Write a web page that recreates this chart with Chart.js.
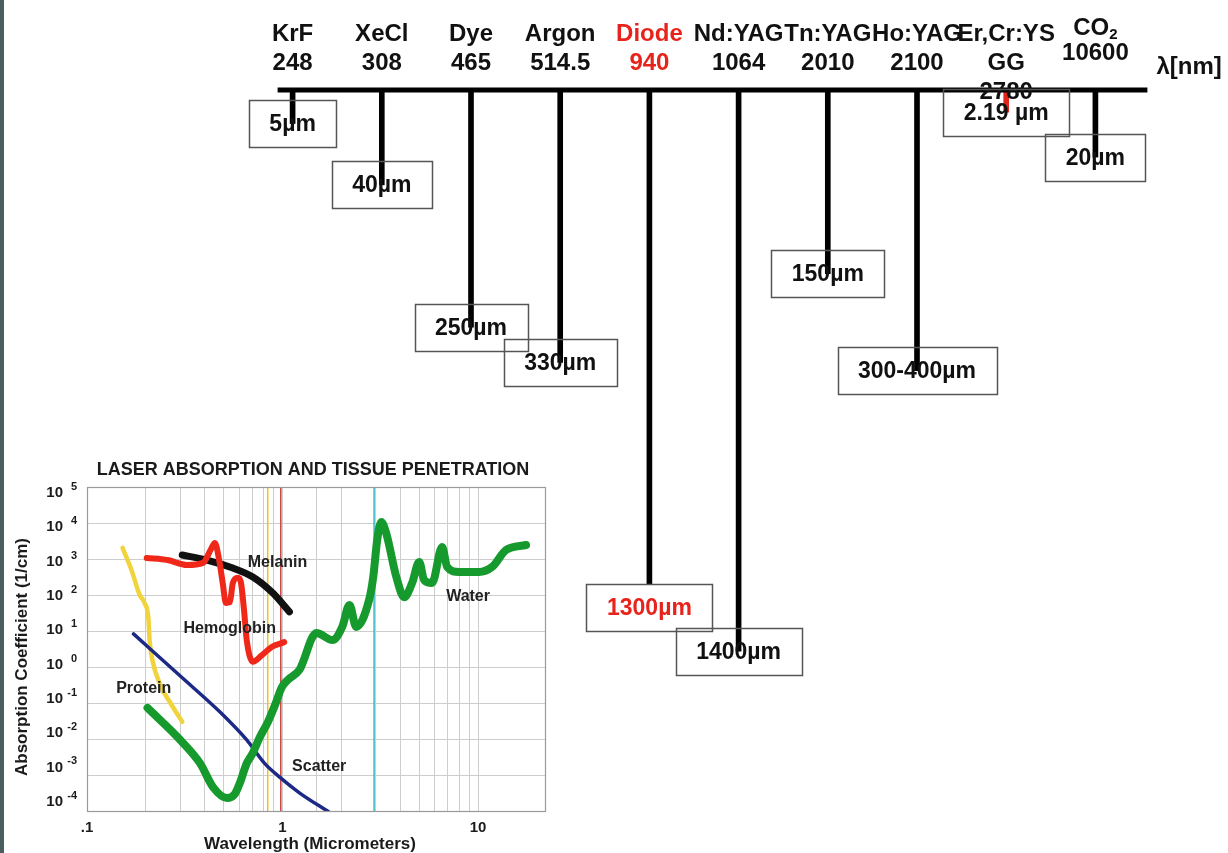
<!DOCTYPE html>
<html>
<head>
<meta charset="utf-8">
<script src="https://cdn.jsdelivr.net/npm/chart.js@4.4.1/dist/chart.umd.min.js"></script>
<style>
  html, body { margin: 0; padding: 0; background: #fff; }
  body { width: 1228px; height: 853px; position: relative; overflow: hidden; }
  #scaleChart { position: absolute; left: 0; top: 0; }
  #insetChart { position: absolute; left: 0; top: 450px; }
  #edge { position: absolute; left: 0; top: 0; width: 4px; height: 853px; background: #4a5e5f; }
</style>
</head>
<body>
<canvas id="scaleChart" width="1228" height="853"></canvas>
<canvas id="insetChart" width="570" height="403"></canvas>
<div id="edge"></div>
<script>
// ---------- laser lines and penetration depths ----------
const lasers        = ['KrF', 'XeCl', 'Dye', 'Argon', 'Diode', 'Nd:YAG', 'Tn:YAG', 'Ho:YAG', 'Er,Cr:YSGG', 'CO₂'];
const wavelengthsNm = ['248', '308', '465', '514.5', '940', '1064', '2010', '2100', '2780', '10600'];
const depthUm       = [5, 40, 250, 330, 1300, 1400, 150, 350, 2.19, 20];
const depthLabels   = ['5µm', '40µm', '250µm', '330µm', '1300µm', '1400µm', '150µm', '300-400µm', '2.19 µm', '20µm'];
const highlighted   = 'Diode';

// ---------- absorption spectra (wavelength µm, absorption 1/cm) ----------
const proteinWl  = [0.152, 0.169, 0.186, 0.197, 0.206, 0.209, 0.216, 0.238, 0.267, 0.307];
const proteinAbs = [2040, 490, 100, 60, 23, 5.6, 1.56, 0.30, 0.10, 0.030];

const melaninWl  = [0.307, 0.411, 0.557, 0.705, 0.89, 1.085];
const melaninAbs = [1290, 935, 560, 316, 115, 34];

const hemoWl  = [0.202, 0.258, 0.325, 0.392, 0.431, 0.451, 0.474, 0.496, 0.513, 0.538, 0.557, 0.591, 0.612, 0.634, 0.656, 0.705, 0.782, 0.88, 1.02];
const hemoAbs = [1070, 935, 680, 780, 1900, 2800, 935, 190, 60, 63, 215, 300, 230, 44, 5.6, 1.4, 2.1, 3.6, 4.9];

const scatterWl  = [0.173, 0.300, 0.479, 0.656, 0.81, 0.977, 1.22, 1.73];
const scatterAbs = [8.3, 0.56, 0.056, 0.0094, 0.0021, 0.00083, 0.00032, 0.000093];

const waterWl  = [0.204, 0.300, 0.379, 0.441, 0.52, 0.571, 0.605, 0.656, 0.705, 0.764, 0.84, 0.92, 0.99, 1.06, 1.22, 1.49, 1.80, 2.02, 2.2, 2.38, 2.77, 2.91, 3.05, 3.2, 3.39, 3.82, 4.19, 4.6, 5.0, 5.3, 5.82, 6.55, 6.95, 8.0, 10.1, 11.8, 13.9, 17.6];
const waterAbs = [0.073, 0.0094, 0.0021, 0.00046, 0.00023, 0.0003, 0.0006, 0.0021, 0.0041, 0.011, 0.029, 0.094, 0.27, 0.43, 0.83, 8.8, 5.6, 13, 53, 13, 72, 316, 3400, 10700, 5250, 316, 87, 215, 830, 260, 215, 2150, 600, 435, 435, 600, 1780, 2450];

const markerWl = [0.84, 0.98, 2.94];
const yDecades = [5, 4, 3, 2, 1, 0, -1, -2, -3, -4];
const xTickValues = [0.1, 1, 10];
const xTickLabels = ['.1', '1', '10'];

const FONT = '"Liberation Sans", Arial, Helvetica, sans-serif';
Chart.defaults.font.family = FONT;

// Square-root value axis: keeps short depths readable next to the long ones
class SqrtScale extends Chart.LinearScale {
  static id = 'sqrt';
  static defaults = Chart.LinearScale.defaults;
  getPixelForValue(value) {
    const lo = Math.sqrt(Math.max(this.min, 0)), hi = Math.sqrt(this.max);
    return this.getPixelForDecimal((Math.sqrt(Math.max(value, 0)) - lo) / (hi - lo));
  }
  getValueForPixel(pixel) {
    const lo = Math.sqrt(Math.max(this.min, 0)), hi = Math.sqrt(this.max);
    const r = lo + this.getDecimalForPixel(pixel) * (hi - lo);
    return r * r;
  }
}
Chart.register(SqrtScale);

const RED = '#e8231b';
const INK = '#111';

// break a name into lines no wider than maxW
function wrapChars(ctx, text, maxW) {
  const lines = [];
  let cur = '';
  for (const ch of text) {
    if (cur && ctx.measureText(cur + ch).width > maxW) { lines.push(cur); cur = ch; }
    else cur += ch;
  }
  if (cur) lines.push(cur);
  return lines;
}

// text with subscript digits (e.g. CO₂)
function drawFormula(ctx, text, cx, cy, size) {
  const subs = '₀₁₂₃₄₅₆₇₈₉';
  const parts = [];
  for (const ch of text) {
    const k = subs.indexOf(ch);
    if (k >= 0) parts.push({ t: String(k), sub: true });
    else parts.push({ t: ch, sub: false });
  }
  const big = `bold ${size}px ${FONT}`, small = `bold ${Math.round(size * 0.62)}px ${FONT}`;
  let total = 0;
  parts.forEach(p => { ctx.font = p.sub ? small : big; p.w = ctx.measureText(p.t).width; total += p.w; });
  let x = cx - total / 2;
  ctx.textAlign = 'left';
  parts.forEach(p => {
    ctx.font = p.sub ? small : big;
    ctx.fillText(p.t, x, p.sub ? cy + size * 0.3 : cy);
    x += p.w;
  });
  ctx.font = big;
  ctx.textAlign = 'center';
}

const laserScalePlugin = {
  id: 'laserScale',
  afterDatasetsDraw(chart) {
    const { ctx, scales: { x } } = chart;
    const axisY = chart.chartArea.top;
    const last = lasers.length - 1;
    ctx.save();
    // wavelength axis line
    ctx.strokeStyle = '#000';
    ctx.lineWidth = 5;
    ctx.beginPath();
    ctx.moveTo(x.getPixelForValue(0) - 15, axisY);
    ctx.lineTo(x.getPixelForValue(last) + 52, axisY);
    ctx.stroke();

    // laser names and wavelengths
    ctx.font = `bold 24px ${FONT}`;
    ctx.textAlign = 'center';
    ctx.textBaseline = 'middle';
    lasers.forEach((name, i) => {
      const cx = x.getPixelForValue(i);
      ctx.fillStyle = name === highlighted ? RED : INK;
      const formula = /[₀-₉]/.test(name);
      if (formula) {
        drawFormula(ctx, name, cx, 28, 24);
        ctx.fillText(wavelengthsNm[i], cx, 53);
      } else {
        const lines = wrapChars(ctx, name, 108).concat([wavelengthsNm[i]]);
        lines.forEach((ln, k) => ctx.fillText(ln, cx, 34 + k * 29));
      }
    });
    ctx.fillStyle = INK;
    ctx.textAlign = 'left';
    ctx.fillText('λ[nm]', x.getPixelForValue(last) + 61, 67);

    // depth boxes centred on the end of each bar
    const meta = chart.getDatasetMeta(0);
    ctx.font = `bold 23px ${FONT}`;
    const H = 47;
    const boxes = meta.data.map((bar, i) => {
      const w = Math.round(ctx.measureText(depthLabels[i]).width + 41);
      return { x: bar.x, end: bar.y, left: Math.round(bar.x - w / 2), top: Math.round(bar.y - H / 2), w, lifted: false };
    });
    // a box that would sit mostly on top of its neighbour moves up above its bar end
    boxes.forEach((b, i) => {
      const n = boxes[i + 1];
      if (!n) return;
      const xOver = Math.min(b.left + b.w, n.left + n.w) - Math.max(b.left, n.left);
      const yOver = Math.min(b.top + H, n.top + H) - Math.max(b.top, n.top);
      if (xOver > 0 && yOver > H / 2 && b.end < n.end) { b.top = Math.round(b.end - H); b.lifted = true; }
    });
    ctx.textAlign = 'center';
    boxes.forEach((b, i) => {
      if (b.lifted) { ctx.fillStyle = '#fff'; ctx.fillRect(b.left, b.top, b.w, H); }
      ctx.strokeStyle = '#555';
      ctx.lineWidth = 1.5;
      ctx.strokeRect(b.left + 0.5, b.top + 0.5, b.w, H);
      ctx.fillStyle = lasers[i] === highlighted ? RED : INK;
      ctx.fillText(depthLabels[i], b.x, b.top + H / 2 + 1);
    });
    ctx.restore();
  }
};

new Chart(document.getElementById('scaleChart'), {
  type: 'bar',
  data: {
    labels: lasers,
    datasets: [{
      data: depthUm,
      backgroundColor: c => (lasers[c.dataIndex] || '').startsWith('Er') ? '#e3261c' : '#000',
      barThickness: 5,
      borderWidth: 0
    }]
  },
  options: {
    responsive: false,
    animation: false,
    events: [],
    layout: { padding: { left: 248, right: 88, top: 90, bottom: 163 } },
    plugins: { legend: { display: false }, tooltip: { enabled: false } },
    scales: {
      x: { display: false },
      y: { type: 'sqrt', reverse: true, min: 0, max: 1600, display: false }
    }
  },
  plugins: [laserScalePlugin]
});

// ---------- inset: absorption spectra ----------
const pts = (xs, ys) => xs.map((v, i) => ({ x: v, y: ys[i] }));
const isDecade = v => Math.abs(Math.log10(v) - Math.round(Math.log10(v))) < 1e-6;
const clear = 'rgba(0,0,0,0)';

const curveNames = [
  { text: 'Melanin', x: 0.943, y: 776 },
  { text: 'Hemoglobin', x: 0.537, y: 11.4 },
  { text: 'Protein', x: 0.195, y: 0.245 },
  { text: 'Water', x: 8.89, y: 88 },
  { text: 'Scatter', x: 1.54, y: 0.00166 }
];

const insetTextPlugin = {
  id: 'insetText',
  afterDraw(chart) {
    const { ctx, chartArea: a, scales: { x, y } } = chart;
    ctx.save();
    ctx.strokeStyle = '#9a9a9a';
    ctx.lineWidth = 1.2;
    ctx.strokeRect(a.left + 0.5, a.top + 0.5, a.right - a.left, a.bottom - a.top);

    ctx.fillStyle = '#1b1b1b';
    ctx.textBaseline = 'middle';
    ctx.textAlign = 'center';
    ctx.font = `bold 18px ${FONT}`;
    ctx.fillText('LASER ABSORPTION AND TISSUE PENETRATION', 313, 20);

    yDecades.forEach((e, k) => {
      const py = y.getPixelForValue(Math.pow(10, e)) + 6 - k * 1.7;
      ctx.textAlign = 'right';
      ctx.font = `bold 15px ${FONT}`;
      ctx.fillText('10', 63, py);
      ctx.font = `bold 11px ${FONT}`;
      ctx.fillText(String(e), 77, py - 6);
    });

    ctx.textAlign = 'center';
    ctx.font = `bold 15px ${FONT}`;
    xTickValues.forEach((v, i) => ctx.fillText(xTickLabels[i], x.getPixelForValue(v), a.bottom + 17));

    ctx.font = `bold 17px ${FONT}`;
    ctx.fillText('Wavelength (Micrometers)', (a.left + a.right) / 2 - 6, a.bottom + 33);
    ctx.save();
    ctx.translate(22, 207);
    ctx.rotate(-Math.PI / 2);
    ctx.fillText('Absorption Coefficient (1/cm)', 0, 0);
    ctx.restore();

    ctx.fillStyle = '#222';
    ctx.font = `bold 16px ${FONT}`;
    curveNames.forEach(c => ctx.fillText(c.text, x.getPixelForValue(c.x), y.getPixelForValue(c.y)));
    ctx.restore();
  }
};

const curve = (label, xs, ys, color, width) => ({
  label, data: pts(xs, ys), borderColor: color, borderWidth: width,
  pointRadius: 0, cubicInterpolationMode: 'monotone',
  borderCapStyle: 'round', borderJoinStyle: 'round', fill: false
});
const marker = (wl, color) => ({
  label: 'λ ' + wl, data: [{ x: wl, y: 1e-4 }, { x: wl, y: 1e5 }],
  borderColor: color, borderWidth: 1.5, pointRadius: 0, fill: false
});

new Chart(document.getElementById('insetChart'), {
  type: 'line',
  data: {
    datasets: [
      curve('Hemoglobin', hemoWl, hemoAbs, '#f0281a', 6),
      curve('Melanin', melaninWl, melaninAbs, '#111111', 7),
      curve('Water', waterWl, waterAbs, '#179a2d', 8),
      curve('Scatter', scatterWl, scatterAbs, '#1c2a86', 3.5),
      curve('Protein', proteinWl, proteinAbs, '#f1d33c', 4.5),
      marker(markerWl[0], '#f4c21c'),
      marker(markerWl[1], '#c8403d'),
      marker(markerWl[2], '#35b8c4')
    ]
  },
  options: {
    responsive: false,
    animation: false,
    events: [],
    layout: { padding: { left: 87, right: 25, top: 37, bottom: 42 } },
    plugins: { legend: { display: false }, tooltip: { enabled: false } },
    scales: {
      x: {
        type: 'logarithmic', min: 0.1, max: 22,
        ticks: { display: false },
        border: { display: false },
        grid: { drawTicks: false, lineWidth: 1, color: c => (c.tick && c.tick.value <= 10.0001) ? '#cdcdcd' : clear }
      },
      y: {
        type: 'logarithmic', min: 1e-4, max: 1e5,
        ticks: { display: false },
        border: { display: false },
        grid: { drawTicks: false, lineWidth: 1, color: c => (c.tick && isDecade(c.tick.value)) ? '#cdcdcd' : clear }
      }
    }
  },
  plugins: [insetTextPlugin]
});
</script>
</body>
</html>
